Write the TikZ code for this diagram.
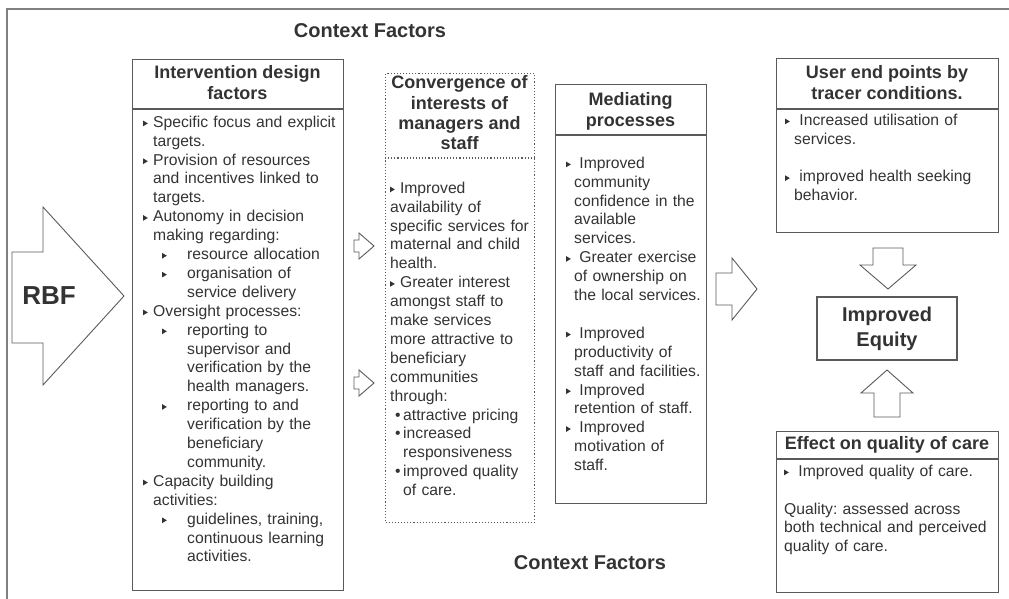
\documentclass[tikz,border=0pt]{standalone}
\usepackage{fontspec}
\setmainfont{Liberation Sans}
\usetikzlibrary{positioning}

\definecolor{txt}{HTML}{333333}
\definecolor{edge}{HTML}{5A5A5A}

\newcommand{\bodyfont}{\fontsize{15.7}{18.9}\selectfont\frenchspacing}
\newcommand{\headfont}{\fontsize{18}{21}\selectfont\bfseries}
\newcommand{\tri}{\tikz[baseline=0pt]\fill[txt] (0pt,1pt)--(0pt,6.6pt)--(4.6pt,3.8pt)--cycle;}
\newcommand{\fitm}[1][10pt]{\hangindent=#1\hangafter=1\noindent\makebox[#1][l]{\strut\tri}}
\newcommand{\itm}[1][10pt]{\par\fitm[#1]}
\newcommand{\subitm}{\par\hangindent=44pt\hangafter=1\noindent\hspace*{19pt}\makebox[25pt][l]{\strut\tri}}
\newcommand{\dotitm}{\par\hangindent=13pt\hangafter=1\noindent\hspace*{5pt}\makebox[8pt][l]{\strut\textbullet}}
\newcommand{\gap}{\par\vskip\baselineskip}

\begin{document}
\begin{tikzpicture}[x=1pt,y=-1pt,
	box/.style={draw=edge,line width=1.1pt,inner sep=0pt,anchor=north west},
	head/.style={font=\headfont,text=txt,align=center,inner sep=0pt},
	body/.style={font=\bodyfont,text=txt,align=left,inner sep=0pt,anchor=north west},
	blockarrow/.style={draw=edge,line width=0.9pt,fill=white,line join=miter}]
	\useasboundingbox (0,0) rectangle (1009,599);
	
	\draw[draw=gray,line width=2.2pt] (7,599) -- (7,9) -- (1009,9);
	
	\node[font=\fontsize{20}{24}\selectfont\bfseries,text=txt] (ctxtop) at (370,31) {Context Factors};
	\node[font=\fontsize{20}{24}\selectfont\bfseries,text=txt] (ctxbot) at (590,563) {Context Factors};
	
	% RBF
	\draw[blockarrow] (12,252) -- (43,252) -- (43,207) -- (124,296) -- (43,385) -- (43,343) -- (12,343) -- cycle;
	\node[font=\fontsize{26}{30}\selectfont\bfseries,text=txt] (rbf) at (49,296) {RBF};
	
	% intervention design factors
	\node[box,minimum width=211pt,minimum height=531pt] (idf) at (132,59) {};
	\draw[edge,line width=1.1pt] (idf.west |- 0,109) -- (idf.east |- 0,109);
	\node[head] (idfh) at (237.5,82.5) {Intervention design\\factors};
	\node[body,text width=198pt] (idfb) at (143,113.8) {%
		\fitm Specific focus and explicit\newline targets.
		\itm Provision of resources\newline and incentives linked to\newline targets.
		\itm Autonomy in decision\newline making regarding:
		\subitm resource allocation
		\subitm organisation of\newline service delivery
		\itm Oversight processes:
		\subitm reporting to\newline supervisor and\newline verification by the\newline health managers.
		\subitm reporting to and\newline verification by the\newline beneficiary\newline community.
		\itm Capacity building\newline activities:
		\subitm guidelines, training,\newline continuous learning\newline activities.\par};
	
	\foreach \y in {246,383}
		\draw[blockarrow] (354,\y-6) -- (359,\y-6) -- (359,\y-13) -- (374,\y) -- (359,\y+13) -- (359,\y+6) -- (354,\y+6) -- cycle;
	
	% convergence
	\node[box,dotted,minimum width=149pt,minimum height=449pt] (conv) at (385,73) {};
	\draw[edge,line width=1.1pt,dotted] (conv.west |- 0,158) -- (conv.east |- 0,158);
	\node[head,font=\fontsize{18}{20.3}\selectfont\bfseries] (convh) at (459.5,113) {Convergence of\\interests of\\managers and\\staff};
	\node[body,text width=146pt] (convb) at (390,179.8) {%
		\noindent\strut\tri\ Improved\newline availability of\newline specific services for\newline maternal and child\newline health.
		\par\noindent\strut\tri\ Greater interest\newline amongst staff to\newline make services\newline more attractive to\newline beneficiary\newline communities\newline through:
		\dotitm attractive pricing
		\dotitm increased\newline responsiveness
		\dotitm improved quality\newline of care.\par};
	
	% mediating processes
	\node[box,minimum width=151pt,minimum height=419pt] (med) at (555,84) {};
	\draw[edge,line width=1.1pt] (med.west |- 0,135) -- (med.east |- 0,135);
	\node[head] (medh) at (630.5,111.5) {Mediating\\processes};
	\node[body,text width=138pt] (medb) at (566,154.8) {%
		\fitm[8pt] Improved\newline community\newline confidence in the\newline available\newline services.
		\itm[8pt] Greater exercise\newline of ownership on\newline the local services.
		\gap
		\fitm[8pt] Improved\newline productivity of\newline staff and facilities.
		\itm[8pt] Improved\newline retention of staff.
		\itm[8pt] Improved\newline motivation of\newline staff.\par};
	
	\draw[blockarrow] (716,273) -- (732,273) -- (732,258) -- (757,289) -- (732,320) -- (732,305) -- (716,305) -- cycle;
	
	% user end points
	\node[box,minimum width=222pt,minimum height=174pt] (usr) at (776,58) {};
	\draw[edge,line width=1.1pt] (usr.west |- 0,109) -- (usr.east |- 0,109);
	\node[head] (usrh) at (887,82.5) {User end points by\\tracer conditions.};
	\node[body,text width=208pt] (usrb) at (785,111.8) {%
		\fitm[9pt] Increased utilisation of\newline services.
		\gap
		\fitm[9pt] improved health seeking\newline behavior.\par};
	
	\draw[blockarrow] (873,248) -- (903,248) -- (903,265) -- (916,265) -- (888,289) -- (860,265) -- (873,265) -- cycle;
	
	\node[draw=edge,line width=1.1pt,minimum width=140pt,minimum height=63pt,align=center,font=\fontsize{20}{25}\selectfont\bfseries,text=txt] (eq) at (887,328.5) {Improved\\Equity};
	
	\draw[blockarrow] (874,417) -- (874,393) -- (861,393) -- (887,370) -- (913,393) -- (900,393) -- (900,417) -- cycle;
	
	% effect on quality
	\node[box,minimum width=222pt,minimum height=161pt] (eff) at (776,431) {};
	\draw[edge,line width=1.1pt] (eff.west |- 0,459) -- (eff.east |- 0,459);
	\node[head] (effh) at (887,445) {Effect on quality of care};
	\node[body,text width=208pt] (effb) at (784,462.8) {%
		\fitm[9pt] Improved quality of care.
		\gap
		\noindent\strut Quality: assessed across\newline both technical and perceived\newline quality of care.\par};
\end{tikzpicture}
\end{document}
